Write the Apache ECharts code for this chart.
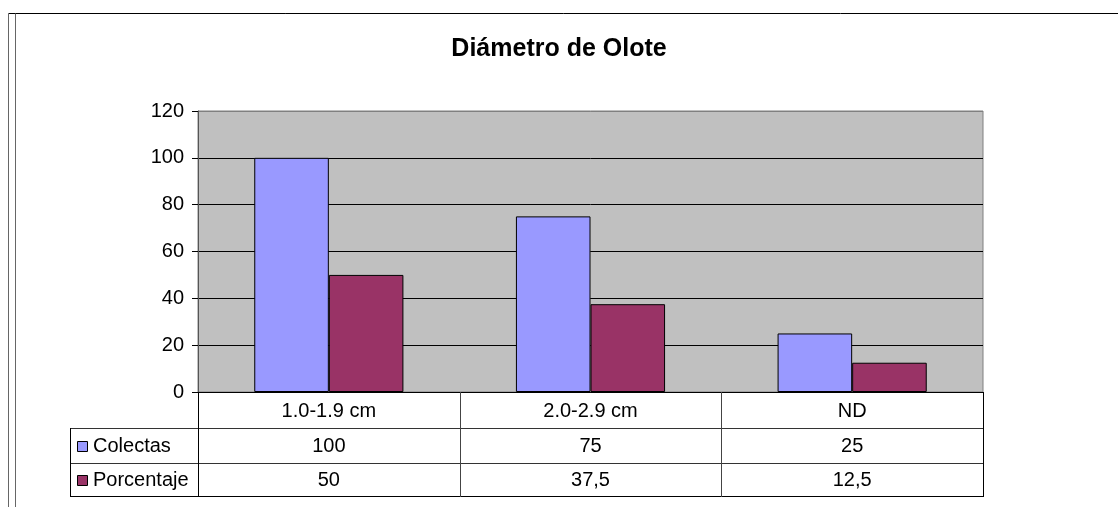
<!DOCTYPE html>
<html><head><meta charset="utf-8">
<script src="https://cdn.jsdelivr.net/npm/echarts@6/dist/echarts.min.js"></script>
<style>html,body{margin:0;padding:0;background:#fff}#c{width:1118px;height:507px}</style>
</head><body><div id="c"></div>
<script>
const title = 'Diámetro de Olote';
const categories = ['1.0-1.9 cm', '2.0-2.9 cm', 'ND'];
const seriesNames = ['Colectas', 'Porcentaje'];
const colectas = [100, 75, 25];
const porcentaje = [50, 37.5, 12.5];
const tableValues = [['100', '75', '25'], ['50', '37,5', '12,5']];
const yTicks = [0, 20, 40, 60, 80, 100, 120];
const colors = ['#9999FF', '#993366'];

const W = 1118, H = 507;
const G = {left: 198, right: 983, top: 111, bottom: 392};
const rowYs = [392, 428, 463, 496];
const tableLeft = 70;
const font = 'Arial, "Liberation Sans", sans-serif';
const FS = 20;

const chart = echarts.init(document.getElementById('c'), null, {renderer: 'canvas'});

const graphics = [];
// outer frame
graphics.push({type: 'line', z: 10, shape: {x1: 8.5, y1: 13.5, x2: W, y2: 13.5}, style: {stroke: '#000', lineWidth: 1}});
graphics.push({type: 'line', z: 10, shape: {x1: 8.5, y1: 13.5, x2: 8.5, y2: H}, style: {stroke: '#666', lineWidth: 1}});
graphics.push({type: 'line', z: 10, shape: {x1: 15.5, y1: 13.5, x2: 15.5, y2: H}, style: {stroke: '#666', lineWidth: 1}});

// table horizontal lines
for (let r = 1; r < rowYs.length; r++) {
  const y = rowYs[r] + 0.5;
  graphics.push({type: 'line', z: 10, shape: {x1: tableLeft, y1: y, x2: G.right + 1, y2: y}, style: {stroke: r === rowYs.length - 1 ? '#000' : '#333', lineWidth: 1}});
}
// left border of legend column
graphics.push({type: 'line', z: 10, shape: {x1: tableLeft + 0.5, y1: rowYs[1], x2: tableLeft + 0.5, y2: rowYs[3] + 1}, style: {stroke: '#000', lineWidth: 1}});

// legend keys & names in table
seriesNames.forEach((name, i) => {
  const cy = (rowYs[i + 1] + rowYs[i + 2]) / 2 + 1;
  graphics.push({type: 'rect', z: 10, shape: {x: 77.5, y: Math.round(cy - 6) + 0.5, width: 10, height: 10}, style: {fill: colors[i], stroke: '#000', lineWidth: 1}});
  graphics.push({type: 'text', z: 10, x: 93, y: cy, style: {text: name, fontSize: FS, fontFamily: font, fill: '#000', verticalAlign: 'middle'}});
});

// values in table
const colW = (G.right - G.left) / categories.length;
tableValues.forEach((row, i) => {
  const cy = (rowYs[i + 1] + rowYs[i + 2]) / 2 + 1;
  row.forEach((v, j) => {
    const cx = G.left + colW * (j + 0.5);
    graphics.push({type: 'text', z: 10, x: cx, y: cy, style: {text: v, fontSize: FS, fontFamily: font, fill: '#000', align: 'center', verticalAlign: 'middle'}});
  });
});
// vertical separators for table rows
for (let j = 0; j <= categories.length; j++) {
  const x = Math.round(G.left + colW * j) + 0.5;
  graphics.push({type: 'line', z: 10, shape: {x1: x, y1: G.bottom, x2: x, y2: rowYs[3] + 1}, style: {stroke: j === 0 || j === categories.length ? '#000' : '#444', lineWidth: 1}});
}

const option = {
  backgroundColor: '#fff',
  animation: false,
  title: {text: title, left: 'center', top: 32, textStyle: {fontFamily: font, fontSize: 25, fontWeight: 'bold', color: '#000'}},
  grid: {left: G.left, top: G.top, width: G.right - G.left, height: G.bottom - G.top, show: true, backgroundColor: '#C0C0C0', borderWidth: 1, borderColor: '#808080'},
  xAxis: {
    type: 'category', data: categories,
    axisLine: {show: true, lineStyle: {color: '#000', width: 1}},
    axisTick: {show: false},
    axisLabel: {fontFamily: font, fontSize: FS, color: '#000', margin: 9},
    splitLine: {show: false}
  },
  yAxis: {
    type: 'value', min: 0, max: 120, interval: 20,
    axisLine: {show: true, lineStyle: {color: '#555', width: 1}},
    axisTick: {show: true, length: 6, lineStyle: {color: '#000'}},
    axisLabel: {fontFamily: font, fontSize: FS, color: '#000', margin: 14,
      formatter: v => yTicks.includes(v) ? String(v) : ''},
    splitLine: {show: true, lineStyle: {color: ['#000', '#000', '#000', '#000', '#000', '#000', '#808080'], width: 1}}
  },
  series: [
    {name: seriesNames[0], type: 'bar', data: colectas, barGap: '0%', barCategoryGap: '43%',
      itemStyle: {color: colors[0], borderColor: '#000', borderWidth: 1}},
    {name: seriesNames[1], type: 'bar', data: porcentaje,
      itemStyle: {color: colors[1], borderColor: '#000', borderWidth: 1}}
  ],
  graphic: graphics
};
chart.setOption(option);
</script></body></html>
